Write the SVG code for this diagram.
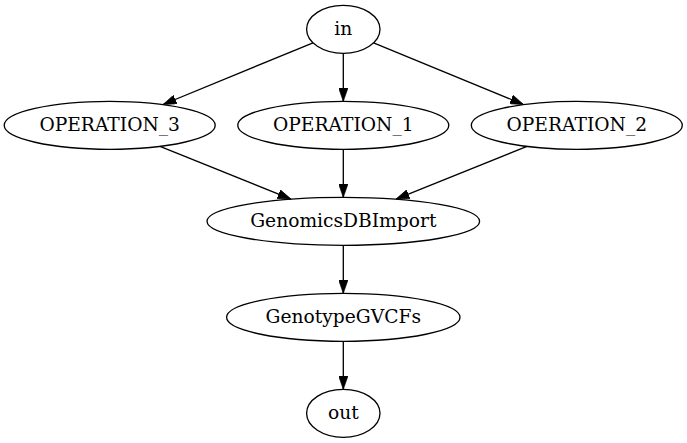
<svg xmlns="http://www.w3.org/2000/svg" width="687" height="443" viewBox="0 0 687 443">
<style>
.node ellipse{fill:none;stroke:#000;stroke-width:1.33}
.node text{font-family:"DejaVu Serif","Liberation Serif",serif;font-size:18.67px;text-anchor:middle;fill:#000}
.edge path{fill:none;stroke:#000;stroke-width:1.33;marker-end:url(#arr)}
</style>
<defs>
<marker id="arr" viewBox="0 0 10 7" refX="10" refY="3.5" markerWidth="13.3" markerHeight="9.33" markerUnits="userSpaceOnUse" orient="auto">
<path d="M0,0 L10,3.5 L0,7 Z" fill="#000" stroke="#000" stroke-width="0.5"/>
</marker>
</defs>
<rect width="687" height="443" fill="#fff"/>
<g id="edges">
<g class="edge"><path d="M313,42.8 L163,104.5"/></g>
<g class="edge"><path d="M343.3,53.3 L343.3,101.3"/></g>
<g class="edge"><path d="M373.6,42.8 L523.5,104.5"/></g>
<g class="edge"><path d="M160,146.4 L291,199.1"/></g>
<g class="edge"><path d="M343.3,149.3 L343.3,197.3"/></g>
<g class="edge"><path d="M527,146.4 L396,199.1"/></g>
<g class="edge"><path d="M343.3,245.3 L343.3,293.3"/></g>
<g class="edge"><path d="M343.3,341.3 L343.3,389.3"/></g>
</g>
<g id="in" class="node"><ellipse cx="343.3" cy="29.3" rx="36.7" ry="24"/><text x="343.3" y="34.5">in</text></g>
<g id="OPERATION_3" class="node"><ellipse cx="109.7" cy="125.3" rx="105.5" ry="24"/><text x="109.7" y="130.5">OPERATION_3</text></g>
<g id="OPERATION_1" class="node"><ellipse cx="343.3" cy="125.3" rx="105.5" ry="24"/><text x="343.3" y="130.5">OPERATION_1</text></g>
<g id="OPERATION_2" class="node"><ellipse cx="576.8" cy="125.3" rx="105.5" ry="24"/><text x="576.8" y="130.5">OPERATION_2</text></g>
<g id="GenomicsDBImport" class="node"><ellipse cx="343.3" cy="221.3" rx="136.3" ry="24"/><text x="343.3" y="226.5">GenomicsDBImport</text></g>
<g id="GenotypeGVCFs" class="node"><ellipse cx="343.3" cy="317.3" rx="116.7" ry="24"/><text x="343.3" y="322.5">GenotypeGVCFs</text></g>
<g id="out" class="node"><ellipse cx="343.3" cy="413.3" rx="36.7" ry="24"/><text x="343.3" y="418.5">out</text></g>
</svg>
